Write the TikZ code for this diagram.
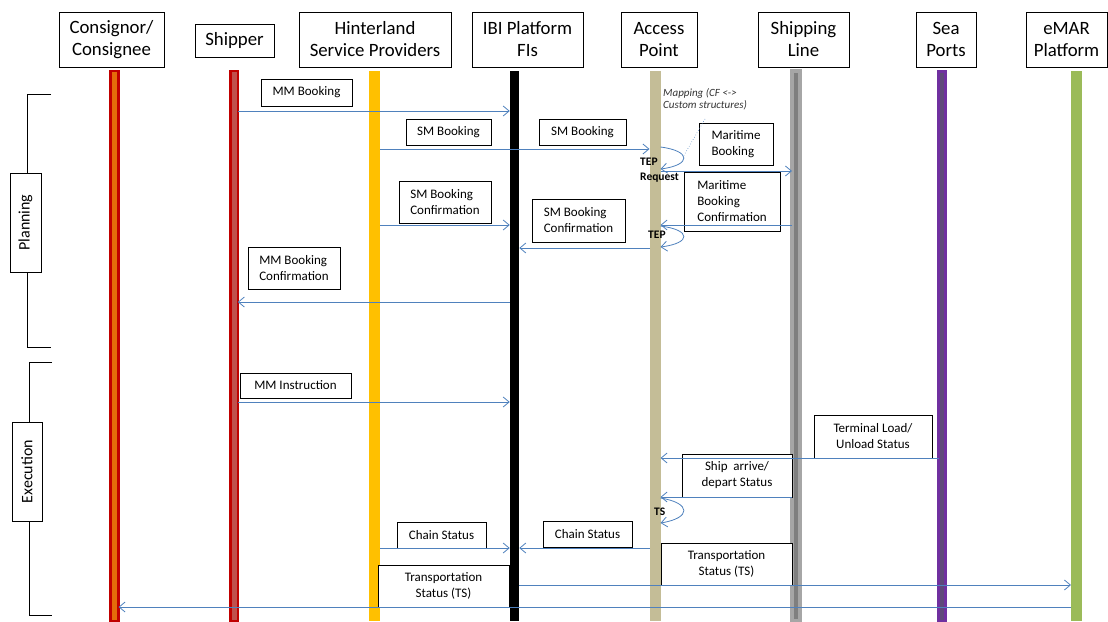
\documentclass[tikz,border=0pt]{standalone}
\usepackage{fontspec}
\setmainfont{Carlito}
\usetikzlibrary{arrows.meta}
\definecolor{msgblue}{HTML}{4F81BD}
\definecolor{llred}{HTML}{C00000}
\definecolor{llorange}{HTML}{E46C0A}
\definecolor{llrose}{HTML}{C0504D}
\definecolor{llamber}{HTML}{FFC000}
\definecolor{lltan}{HTML}{C4BD97}
\definecolor{llgreyout}{HTML}{A6A6A6}
\definecolor{llgreyin}{HTML}{7F7F7F}
\definecolor{llpurple}{HTML}{7030A0}
\definecolor{llpurplein}{HTML}{5F497A}
\definecolor{llgreen}{HTML}{9BBB59}
% box from corner coordinates: [options]{x1}{y1}{x2}{y2}{name}{text}
\newcommand\tbox[7][]{%
  \node[msgbox,#1,minimum width={#4-#2},minimum height={#5-#3}] (#6)
    at ({(#2+#4)/2},{(#3+#5)/2}) {#7};}
\begin{document}
\begin{tikzpicture}[x=1pt,y=-1pt,
  hdr/.style={draw,line width=0.8pt,align=center,inner sep=0pt,
    font=\fontsize{18.8}{22}\selectfont},
  lifeline/.style={anchor=north,inner sep=0pt,outer sep=0pt,minimum height=550},
  msgbox/.style={draw,fill=white,line width=0.8pt,inner sep=0pt,align=center,
    font=\fontsize{13}{16}\selectfont},
  msg/.style={draw=msgblue,line width=0.8pt,-{Straight Barb[length=6pt,width=10pt]}},
  phase/.style={draw,fill=white,line width=0.8pt,inner sep=0pt,rotate=90,
    font=\fontsize{16}{19}\selectfont},
  bracket/.style={line width=0.8pt},
  tag/.style={inner sep=0pt,align=left,font=\bfseries\fontsize{11.5}{15}\selectfont},
]
\useasboundingbox (0,0) rectangle (1108,621);

% participants
\node[hdr,minimum width=105,minimum height=55] (h1) at (111.5,39.5) {Consignor/\\Consignee};
\node[hdr,minimum width=79,minimum height=33]  (h2) at (234.5,40.5) {Shipper};
\node[hdr,minimum width=152,minimum height=55] (h3) at (375,39.5) {Hinterland\\Service Providers};
\node[hdr,minimum width=111,minimum height=55] (h4) at (527.5,39.5) {IBI Platform\\FIs};
\node[hdr,minimum width=76,minimum height=55]  (h5) at (659,39.5) {Access\\Point};
\node[hdr,minimum width=91,minimum height=55]  (h6) at (803.5,39.5) {Shipping\\Line};
\node[hdr,minimum width=60,minimum height=55]  (h7) at (946,39.5) {Sea\\Ports};
\node[hdr,minimum width=81,minimum height=55]  (h8) at (1066.5,39.5) {eMAR\\Platform};

% lifelines
\node[lifeline,minimum width=8,draw=llred,line width=2.5pt,fill=llorange] (L1) at (114.5,71) {};
\node[lifeline,minimum width=7.5,draw=llred,line width=2.5pt,fill=llrose] (L2) at (234,71) {};
\node[lifeline,minimum width=11,fill=llamber] (L3) at (374.5,71) {};
\node[lifeline,minimum width=9.5,fill=black] (L4) at (514.5,71) {};
\node[lifeline,minimum width=11,fill=lltan] (L5) at (655,71) {};
\node[lifeline,minimum width=8,draw=llgreyout,line width=3.5pt,fill=llgreyin] (L6) at (796,71) {};
\node[lifeline,minimum width=7,draw=llpurple,line width=3pt,fill=llpurplein] (L7) at (942,71) {};
\node[lifeline,minimum width=11,fill=llgreen] (L8) at (1076.5,71) {};

% phases
\draw[bracket] (51,94) -- (27,94) -- (27,347) -- (51,347);
\node[phase,minimum width=99,minimum height=31] (plan) at (25.5,222.5) {Planning};
\draw[bracket] (52,362) -- (29,362) -- (29,615) -- (52,615);
\node[phase,minimum width=99,minimum height=30] (exec) at (27,471.5) {Execution};

% message labels
\tbox{261}{79}{352}{106}{mmb}{MM Booking}
\tbox{406}{119}{491}{145}{smb1}{SM Booking}
\tbox{539}{119}{626}{145}{smb2}{SM Booking}
\tbox[align=left]{699}{123}{773}{165}{marb}{Maritime\\Booking}
\tbox[align=left]{684}{172}{780}{231}{marbc}{Maritime\\Booking\\Confirmation}
\tbox[align=left]{399}{181}{491}{223}{smbc1}{SM Booking\\Confirmation}
\tbox[align=left]{532}{199}{625}{242}{smbc2}{SM Booking\\Confirmation}
\tbox[align=left]{248}{247}{340}{289}{mmbc}{MM Booking\\Confirmation}
\tbox{240}{373}{351}{398}{mmi}{MM Instruction}
\tbox{814}{415}{932}{458}{tls}{Terminal Load/\\Unload Status}
\tbox{682}{454}{792}{497}{sad}{Ship\ \ arrive/\\depart Status}
\tbox{397}{522}{486}{548}{cs1}{Chain Status}
\tbox{543}{521}{632}{547}{cs2}{Chain Status}
\tbox{661}{543}{792}{585}{ts1}{Transportation\\Status (TS)}
\tbox{378}{565}{509}{607}{ts2}{Transportation\\Status (TS)}

% note on the mapping step
\node[inner sep=0pt,anchor=north west,align=left,text=black!80,
  font=\itshape\fontsize{11}{12.5}\selectfont] (map) at (663,88)
  {Mapping (CF <->\\Custom structures)};
\coordinate (mapFrom) at (705,119);
\coordinate (mapTo) at (683,157);
\draw[msgblue,line width=0.6pt,dotted] (mapFrom) -- (mapTo);

% local processing tags
\node[tag,anchor=north west] (tep1) at (640,158) {TEP\\Request};
\node[tag,anchor=north west] (tep2) at (648,231) {TEP};
\node[tag,anchor=north west] (ts) at (654,508) {TS};

% messages: planning
\draw[msg] (L2.east |- 0,111) -- (L4.west |- 0,111);
\draw[msg] (L3.east |- 0,149) -- (L5.west |- 0,149);
\draw[msg] (L5.east |- 0,147) .. controls +(31,4) and +(31,-4) .. (L5.east |- 0,169);
\draw[msg] (L5.east |- 0,171) -- (L6.west |- 0,171);
\draw[msg] (L6.west |- 0,225) -- (L5.east |- 0,225);
\draw[msg] (L5.east |- 0,226) .. controls +(31,4) and +(31,-4) .. (L5.east |- 0,247);
\draw[msg] (L3.east |- 0,225) -- (L4.west |- 0,225);
\draw[msg] (L5.west |- 0,248) -- (L4.east |- 0,248);
\draw[msg] (L4.west |- 0,302) -- (L2.east |- 0,302);

% messages: execution
\draw[msg] (L2.east |- 0,402) -- (L4.west |- 0,402);
\draw[msg] (L7.west |- 0,458) -- (L5.east |- 0,458);
\draw[msg] (L6.west |- 0,497) -- (L5.east |- 0,497);
\draw[msg] (L5.east |- 0,498) .. controls +(31,5) and +(31,-5) .. (L5.east |- 0,523);
\draw[msg] (L3.east |- 0,548) -- (L4.west |- 0,548);
\draw[msg] (L5.west |- 0,548) -- (L4.east |- 0,548);
\draw[msg] (L4.east |- 0,585) -- (L8.west |- 0,585);
\draw[msg] (L8.west |- 0,607) -- (L1.east |- 0,607);
\end{tikzpicture}
\end{document}
